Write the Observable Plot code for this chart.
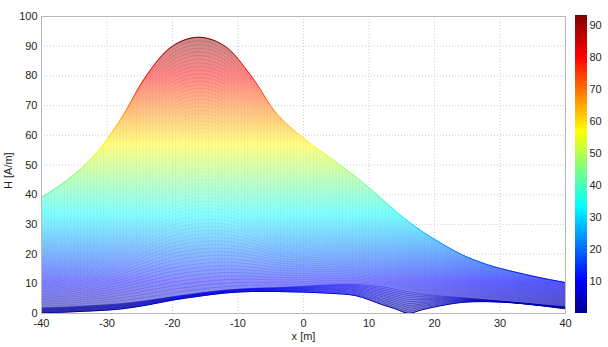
<!DOCTYPE html>
<html><head><meta charset="utf-8">
<script src="https://cdn.jsdelivr.net/npm/d3@7"></script>
<script src="https://cdn.jsdelivr.net/npm/@observablehq/plot@0.6"></script>
<style>
html,body{margin:0;padding:0;background:#fff;}
#wrap{position:relative;width:608px;height:347px;overflow:hidden;}
#wrap svg{position:absolute;top:0;}
</style></head><body><div id="wrap"></div>
<script>
// ---- data ----
const xs      = [-40,-36,-32,-28,-24,-20,-16,-12,-8,-4,0,4,8,12,14,16,18,20,24,28,32,36,40];
const topH    = [39,45,53,65,80,90,93,90,80,67,59,52.5,46,38.5,34.6,31,27.8,25,20,16.5,14.1,12.1,10.4];
const bandH   = [2.0,2.3,2.8,3.4,4.4,5.7,6.9,7.9,8.5,8.8,9.3,9.9,10.1,9.5,8.8,8.0,7.2,6.5,5.5,4.6,3.8,3.0,2.3];
const bottomH = [0.2,0.5,0.9,1.5,2.8,4.5,5.8,6.9,7.4,7.4,7.2,6.8,6.0,3.0,1.6,0.1,1.2,2.2,3.7,4.0,3.6,2.7,1.6];
const xTicks  = [-40,-30,-20,-10,0,10,20,30,40];
const yTicks  = [0,10,20,30,40,50,60,70,80,90,100];
const cbTicks = [10,20,30,40,50,60,70,80,90];
const cLimits = [0, 93];
const jetStops  = [0, 0.11, 0.36, 0.61, 0.86, 1];
const jetColors = ["#000090","#0000ff","#00ffff","#ffff00","#ff0000","#800000"];
const nBand = 12, nUpper = 70;
const meshStep = 0.5; // x spacing of the mesh columns [m]

// tables for the mesh lines (rows of the surface between the read envelopes)
const pts = xs.map((x, i) => ({x, top: topH[i], band: bandH[i], bottom: bottomH[i]}));
const bandMesh = [], upperMesh = [];
for (let k = 0; k < nBand; k++) {
  const f = k / nBand;
  for (const p of pts) bandMesh.push({k, x: p.x, H: p.bottom + f * (p.band - p.bottom)});
}
for (let k = 0; k <= nUpper; k++) {
  const f = k / nUpper;
  for (const p of pts) upperMesh.push({k, x: p.x, H: p.band + f * (p.top - p.band)});
}

const font = '"Liberation Sans", Arial, Helvetica, sans-serif';
const style = {fontFamily: font, fontSize: "11px", color: "#262626", background: "transparent"};
const curve = "catmull-rom";

const main = Plot.plot({
  width: 608, height: 347,
  marginLeft: 41, marginRight: 43, marginTop: 16, marginBottom: 34,
  style,
  x: {domain: [-40, 40], ticks: xTicks, tickSize: 0, tickPadding: 6, label: null, tickFormat: d => String(d)},
  y: {domain: [0, 100], ticks: yTicks, tickSize: 0, tickPadding: 4, label: null, tickFormat: d => String(d)},
  marks: [
    Plot.ruleX(xTicks, {stroke: "#cfcfcf", strokeDasharray: "1,2"}),
    Plot.ruleY(yTicks, {stroke: "#cfcfcf", strokeDasharray: "1,2"}),
    Plot.areaY(pts, {x: "x", y1: "bottom", y2: "top", fill: "url(#jetLight)", curve}),
    Plot.areaY(pts, {x: "x", y1: "bottom", y2: "top", fill: "url(#vlines)", curve}),
    Plot.line(upperMesh, {x: "x", y: "H", z: "k", stroke: "url(#jet)", strokeWidth: 0.5, strokeOpacity: 0.35, curve}),
    Plot.line(bandMesh, {x: "x", y: "H", z: "k", stroke: "url(#jet)", strokeWidth: 0.6, strokeOpacity: 0.75, curve}),
    Plot.line(pts, {x: "x", y: "top", stroke: "url(#jet)", strokeWidth: 1, curve}),
    Plot.line(pts, {x: "x", y: "bottom", stroke: "url(#jet)", strokeWidth: 1, curve}),
    Plot.frame({stroke: "#b8b8b8"}),
    Plot.text(["x [m]"], {frameAnchor: "bottom", dy: 26, text: d => d, fontSize: 11}),
    Plot.text(["H [A/m]"], {frameAnchor: "left", dx: -33, dy: 24, rotate: -90, text: d => d, fontSize: 11})
  ]
});

const cb = Plot.plot({
  width: 45, height: 347,
  marginLeft: 5, marginRight: 28, marginTop: 15, marginBottom: 34,
  style,
  x: {domain: [0, 1], axis: null},
  y: {domain: cLimits, ticks: cbTicks, axis: "right", tickSize: 0, tickPadding: 2, label: null, tickFormat: d => String(d)},
  marks: [
    Plot.rect([cLimits], {x1: 0, x2: 1, y1: d => d[0], y2: d => d[1], fill: "url(#jetBar)"})
  ]
});

const NS = "http://www.w3.org/2000/svg";
function getDefs(svg) {
  let defs = svg.querySelector("defs");
  if (!defs) { defs = document.createElementNS(NS, "defs"); svg.insertBefore(defs, svg.firstChild); }
  return defs;
}
function addGradient(svg, id, yScale, lighten) {
  const g = document.createElementNS(NS, "linearGradient");
  g.setAttribute("id", id);
  g.setAttribute("gradientUnits", "userSpaceOnUse");
  g.setAttribute("x1", 0); g.setAttribute("x2", 0);
  g.setAttribute("y1", yScale.apply(cLimits[0]));
  g.setAttribute("y2", yScale.apply(cLimits[1]));
  jetStops.forEach((t, i) => {
    const s = document.createElementNS(NS, "stop");
    s.setAttribute("offset", t);
    s.setAttribute("stop-color", lighten ? d3.interpolateRgb(jetColors[i], "#ffffff")(lighten) : jetColors[i]);
    g.appendChild(s);
  });
  getDefs(svg).appendChild(g);
}
function addColumnPattern(svg, id, xScale) {
  const w = xScale.apply(meshStep) - xScale.apply(0);
  const p = document.createElementNS(NS, "pattern");
  p.setAttribute("id", id);
  p.setAttribute("patternUnits", "userSpaceOnUse");
  p.setAttribute("x", xScale.apply(-40));
  p.setAttribute("y", 0);
  p.setAttribute("width", w);
  p.setAttribute("height", 10);
  const r = document.createElementNS(NS, "rect");
  r.setAttribute("x", 0); r.setAttribute("y", 0);
  r.setAttribute("width", 0.5); r.setAttribute("height", 10);
  r.setAttribute("fill", "#1a1a40"); r.setAttribute("fill-opacity", 0.08);
  p.appendChild(r);
  getDefs(svg).appendChild(p);
}
addGradient(main, "jet", main.scale("y"), 0);
addGradient(main, "jetLight", main.scale("y"), 0.55);
addColumnPattern(main, "vlines", main.scale("x"));
addGradient(cb, "jetBar", cb.scale("y"), 0);

const wrap = document.getElementById("wrap");
main.style.left = "0px";
cb.style.left = "570px";
wrap.appendChild(main);
wrap.appendChild(cb);
</script></body></html>
